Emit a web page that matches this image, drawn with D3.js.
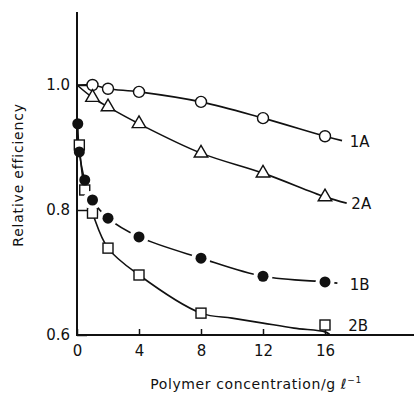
<!DOCTYPE html>
<html>
<head>
<meta charset="utf-8">
<script src="https://cdn.jsdelivr.net/npm/d3@7"></script>
<style>
  body { margin: 0; background: #fff; }
  text { font-family: "DejaVu Sans", sans-serif; fill: #111; }
</style>
</head>
<body>
<svg id="chart" width="418" height="397"></svg>
<script>
// marker values
var conc1A = [1, 2, 4, 8, 12, 16]
var eff1A = [1.0, 0.994, 0.989, 0.973, 0.947, 0.918]
var conc2A = [1, 2, 4, 8, 12, 16]
var eff2A = [0.980, 0.965, 0.938, 0.891, 0.859, 0.821]
var conc1B = [0.05, 0.15, 0.5, 1, 2, 4, 8, 12, 16]
var eff1B = [0.938, 0.893, 0.848, 0.816, 0.787, 0.757, 0.723, 0.694, 0.685]
var conc2B = [0.15, 0.5, 1, 2, 4, 8, 16]
var eff2B = [0.904, 0.832, 0.795, 0.739, 0.696, 0.635, 0.616]

// fitted curves (as drawn in the figure)
var line1A = [[0, 1.0], [1, 1.0], [2, 0.994], [4, 0.989], [8, 0.973], [12, 0.947], [16, 0.918], [17.1, 0.911]]
var line2A = [[0, 1.0], [1, 0.980], [2, 0.965], [4, 0.938], [8, 0.891], [12, 0.859], [16, 0.821], [17.4, 0.811]]
var line1B = [[0.05, 0.938], [0.15, 0.893], [0.5, 0.848], [1, 0.816], [2, 0.787], [4, 0.757], [8, 0.723], [12, 0.694], [16, 0.685], [16.8, 0.683]]
var line2B = [[0.15, 0.904], [0.5, 0.832], [1, 0.795], [2, 0.739], [4, 0.696], [8, 0.635], [10, 0.627], [12, 0.619], [14, 0.611], [16, 0.605], [16.3, 0.601]]

var xTicks = [0, 4, 8, 12, 16]
var yTicks = [0.6, 0.8, 1.0]

var dimensions = {
    width: 418,
    height: 397,
    margin: { top: 12, left: 77, bottom: 62, right: 4 }
}

var svg = d3.select("#chart")

var xScale = d3.scaleLinear()
    .domain([0, 16])
    .range([77, 325])

var yScale = d3.scaleLinear()
    .domain([0.6, 1.0])
    .range([335, 85])

var x0 = xScale(0), y0 = yScale(0.6)

// axes
var xAxisGen = d3.axisBottom(xScale)
    .tickValues(xTicks)
    .tickSizeInner(-6)
    .tickSizeOuter(0)
    .tickPadding(10)
    .tickFormat(d3.format("d"))

var yAxisGen = d3.axisLeft(yScale)
    .tickValues(yTicks)
    .tickSizeInner(-10)
    .tickSizeOuter(0)
    .tickPadding(7)
    .tickFormat(d3.format(".1f"))

var xAxis = svg.append("g")
    .attr("transform", "translate(0," + y0 + ")")
    .call(xAxisGen)
xAxis.select(".domain").remove()
xAxis.selectAll(".tick line").attr("stroke", "#111").attr("stroke-width", 1.5)
xAxis.selectAll(".tick text").style("font-size", "15px").attr("font-family", null)

var yAxis = svg.append("g")
    .attr("transform", "translate(" + x0 + ",0)")
    .call(yAxisGen)
yAxis.select(".domain").remove()
yAxis.selectAll(".tick line").attr("stroke", "#111").attr("stroke-width", 1.5)
yAxis.selectAll(".tick text").style("font-size", "15px").attr("font-family", null)

svg.append("line")
    .attr("x1", x0).attr("x2", 414)
    .attr("y1", y0).attr("y2", y0)
    .attr("stroke", "#111").attr("stroke-width", 2)

svg.append("line")
    .attr("x1", x0).attr("x2", x0)
    .attr("y1", dimensions.margin.top).attr("y2", y0 + 1)
    .attr("stroke", "#111").attr("stroke-width", 2)

// axis titles
svg.append("text")
    .attr("x", 256)
    .attr("y", 389)
    .attr("text-anchor", "middle")
    .style("font-size", "14px")
    .style("letter-spacing", "0.6px")
    .text("Polymer concentration/g ℓ")
    .append("tspan")
    .attr("dy", -6)
    .style("font-size", "9px")
    .text("−1")

svg.append("text")
    .attr("transform", "translate(23,175) rotate(-90)")
    .attr("text-anchor", "middle")
    .style("font-size", "14px")
    .style("letter-spacing", "0.8px")
    .text("Relative efficiency")

// curves
var lineGen = d3.line()
    .x(d => xScale(d[0]))
    .y(d => yScale(d[1]))
    .curve(d3.curveCatmullRom.alpha(0.5))

var lines = [line1A, line2A, line1B, line2B]
svg.append("g")
    .selectAll("path")
    .data(lines)
    .enter()
    .append("path")
    .attr("d", lineGen)
    .attr("fill", "none")
    .attr("stroke", "#111")
    .attr("stroke-width", 1.6)

function pts(cs, es) {
    return cs.map((c, i) => ({ c: c, e: es[i] }))
}

var r = 5.5

// 2B squares
svg.append("g")
    .selectAll("rect")
    .data(pts(conc2B, eff2B))
    .enter()
    .append("rect")
    .attr("x", d => xScale(d.c) - 5)
    .attr("y", d => yScale(d.e) - 5)
    .attr("width", 10)
    .attr("height", 10)
    .attr("fill", "#fff")
    .attr("stroke", "#111")
    .attr("stroke-width", 1.4)

// 1B filled circles with white halo (line looks broken around them)
var g1B = svg.append("g")
g1B.selectAll(".halo")
    .data(pts(conc1B, eff1B).slice(3))
    .enter()
    .append("circle")
    .attr("class", "halo")
    .attr("cx", d => xScale(d.c))
    .attr("cy", d => yScale(d.e))
    .attr("r", r + 4)
    .attr("fill", "#fff")
g1B.selectAll(".dot")
    .data(pts(conc1B, eff1B))
    .enter()
    .append("circle")
    .attr("class", "dot")
    .attr("cx", d => xScale(d.c))
    .attr("cy", d => yScale(d.e))
    .attr("r", r)
    .attr("fill", "#111")

// 1A open circles
svg.append("g")
    .selectAll("circle")
    .data(pts(conc1A, eff1A))
    .enter()
    .append("circle")
    .attr("cx", d => xScale(d.c))
    .attr("cy", d => yScale(d.e))
    .attr("r", r)
    .attr("fill", "#fff")
    .attr("stroke", "#111")
    .attr("stroke-width", 1.4)

// 2A triangles
var tri = d3.symbol().type(d3.symbolTriangle).size(80)
svg.append("g")
    .selectAll("path")
    .data(pts(conc2A, eff2A))
    .enter()
    .append("path")
    .attr("d", tri)
    .attr("transform", d => "translate(" + xScale(d.c) + "," + yScale(d.e) + ")")
    .attr("fill", "#fff")
    .attr("stroke", "#111")
    .attr("stroke-width", 1.4)

// series labels
var labelNames = ["1A", "2A", "1B", "2B"]
var labelAt = [[17.6, 0.909], [17.7, 0.810], [17.6, 0.680], [17.5, 0.615]]
svg.append("g")
    .selectAll("text")
    .data(labelNames)
    .enter()
    .append("text")
    .attr("x", (d, i) => xScale(labelAt[i][0]))
    .attr("y", (d, i) => yScale(labelAt[i][1]))
    .attr("dy", "0.35em")
    .style("font-size", "15px")
    .text(d => d)
</script>
</body>
</html>
